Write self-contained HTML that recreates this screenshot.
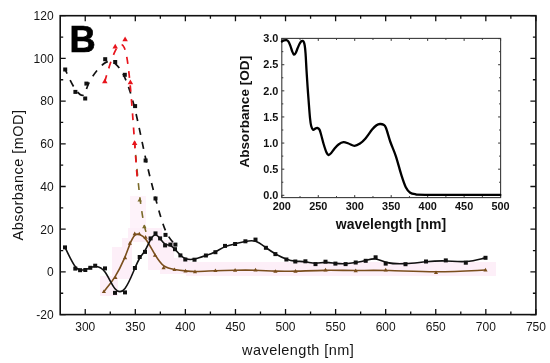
<!DOCTYPE html><html><head><meta charset="utf-8"><style>html,body{margin:0;padding:0;background:#fff;width:550px;height:363px;overflow:hidden}svg{display:block;will-change:transform}text{font-family:"Liberation Sans",sans-serif}</style></head><body>
<svg width="550" height="363" viewBox="0 0 550 363">

<rect x="130" y="196" width="16" height="32" fill="#fef3fa"/>
<rect x="100" y="276" width="18" height="20" fill="#fdeff8"/>
<rect x="112" y="247" width="20" height="32" fill="#fdeff8"/>
<rect x="122" y="238" width="10" height="30" fill="#fdeff8"/>
<rect x="128" y="228" width="34" height="14" fill="#fdeff8"/>
<rect x="148" y="240" width="26" height="30" fill="#fdeff8"/>
<rect x="160" y="258" width="30" height="16" fill="#fdeff8"/>
<rect x="186" y="262" width="310" height="14" fill="#fdeff8"/>
<path d="M85.24,314.60v-5.5 M85.24,15.70v5.5 M135.31,314.60v-5.5 M135.31,15.70v5.5 M185.38,314.60v-5.5 M185.38,15.70v5.5 M235.46,314.60v-5.5 M235.46,15.70v5.5 M285.53,314.60v-5.5 M285.53,15.70v5.5 M335.61,314.60v-5.5 M335.61,15.70v5.5 M385.68,314.60v-5.5 M385.68,15.70v5.5 M435.75,314.60v-5.5 M435.75,15.70v5.5 M485.83,314.60v-5.5 M485.83,15.70v5.5 M535.90,314.60v-5.5 M535.90,15.70v5.5 M110.27,314.60v-3 M110.27,15.70v3 M160.35,314.60v-3 M160.35,15.70v3 M210.42,314.60v-3 M210.42,15.70v3 M260.49,314.60v-3 M260.49,15.70v3 M310.57,314.60v-3 M310.57,15.70v3 M360.64,314.60v-3 M360.64,15.70v3 M410.72,314.60v-3 M410.72,15.70v3 M460.79,314.60v-3 M460.79,15.70v3 M510.86,314.60v-3 M510.86,15.70v3 M60.20,314.60h5.5 M535.90,314.60h-5.5 M60.20,271.90h5.5 M535.90,271.90h-5.5 M60.20,229.20h5.5 M535.90,229.20h-5.5 M60.20,186.50h5.5 M535.90,186.50h-5.5 M60.20,143.80h5.5 M535.90,143.80h-5.5 M60.20,101.10h5.5 M535.90,101.10h-5.5 M60.20,58.40h5.5 M535.90,58.40h-5.5 M60.20,15.70h5.5 M535.90,15.70h-5.5 M60.20,293.25h3 M535.90,293.25h-3 M60.20,250.55h3 M535.90,250.55h-3 M60.20,207.85h3 M535.90,207.85h-3 M60.20,165.15h3 M535.90,165.15h-3 M60.20,122.45h3 M535.90,122.45h-3 M60.20,79.75h3 M535.90,79.75h-3 M60.20,37.05h3 M535.90,37.05h-3" stroke="#111" stroke-width="1.3" fill="none"/>
<rect x="60.20" y="15.70" width="475.70" height="298.90" fill="none" stroke="#111" stroke-width="1.6"/>
<text x="85.24" y="331" font-size="12" text-anchor="middle" fill="#151515">300</text>
<text x="135.31" y="331" font-size="12" text-anchor="middle" fill="#151515">350</text>
<text x="185.38" y="331" font-size="12" text-anchor="middle" fill="#151515">400</text>
<text x="235.46" y="331" font-size="12" text-anchor="middle" fill="#151515">450</text>
<text x="285.53" y="331" font-size="12" text-anchor="middle" fill="#151515">500</text>
<text x="335.61" y="331" font-size="12" text-anchor="middle" fill="#151515">550</text>
<text x="385.68" y="331" font-size="12" text-anchor="middle" fill="#151515">600</text>
<text x="435.75" y="331" font-size="12" text-anchor="middle" fill="#151515">650</text>
<text x="485.83" y="331" font-size="12" text-anchor="middle" fill="#151515">700</text>
<text x="535.90" y="331" font-size="12" text-anchor="middle" fill="#151515">750</text>
<text x="53.6" y="318.90" font-size="12" text-anchor="end" fill="#151515">-20</text>
<text x="53.6" y="276.20" font-size="12" text-anchor="end" fill="#151515">0</text>
<text x="53.6" y="233.50" font-size="12" text-anchor="end" fill="#151515">20</text>
<text x="53.6" y="190.80" font-size="12" text-anchor="end" fill="#151515">40</text>
<text x="53.6" y="148.10" font-size="12" text-anchor="end" fill="#151515">60</text>
<text x="53.6" y="105.40" font-size="12" text-anchor="end" fill="#151515">80</text>
<text x="53.6" y="62.70" font-size="12" text-anchor="end" fill="#151515">100</text>
<text x="53.6" y="20.00" font-size="12" text-anchor="end" fill="#151515">120</text>
<text x="298.2" y="354.6" font-size="14.5" letter-spacing="0.45" text-anchor="middle" fill="#151515">wavelength [nm]</text>
<text transform="translate(23,175.0) rotate(-90)" font-size="14.5" letter-spacing="0.47" text-anchor="middle" fill="#151515">Absorbance [mOD]</text>
<text x="69.4" y="52" font-size="36.3" font-weight="bold" fill="#000" stroke="#000" stroke-width="0.7">B</text>
<path d="M281.80,197.60v-2.5 M281.80,38.40v2.5 M318.27,197.60v-2.5 M318.27,38.40v2.5 M354.73,197.60v-2.5 M354.73,38.40v2.5 M391.20,197.60v-2.5 M391.20,38.40v2.5 M427.67,197.60v-2.5 M427.67,38.40v2.5 M464.13,197.60v-2.5 M464.13,38.40v2.5 M500.60,197.60v-2.5 M500.60,38.40v2.5 M300.03,197.60v-1.5 M300.03,38.40v1.5 M336.50,197.60v-1.5 M336.50,38.40v1.5 M372.97,197.60v-1.5 M372.97,38.40v1.5 M409.43,197.60v-1.5 M409.43,38.40v1.5 M445.90,197.60v-1.5 M445.90,38.40v1.5 M482.37,197.60v-1.5 M482.37,38.40v1.5 M281.80,195.30h2.5 M500.60,195.30h-2.5 M281.80,169.18h2.5 M500.60,169.18h-2.5 M281.80,143.07h2.5 M500.60,143.07h-2.5 M281.80,116.95h2.5 M500.60,116.95h-2.5 M281.80,90.83h2.5 M500.60,90.83h-2.5 M281.80,64.72h2.5 M500.60,64.72h-2.5 M281.80,38.60h2.5 M500.60,38.60h-2.5 M281.80,182.24h1.5 M500.60,182.24h-1.5 M281.80,156.12h1.5 M500.60,156.12h-1.5 M281.80,130.01h1.5 M500.60,130.01h-1.5 M281.80,103.89h1.5 M500.60,103.89h-1.5 M281.80,77.77h1.5 M500.60,77.77h-1.5 M281.80,51.66h1.5 M500.60,51.66h-1.5" stroke="#333" stroke-width="1" fill="none"/>
<rect x="281.80" y="38.40" width="218.80" height="159.20" fill="none" stroke="#3a3a3a" stroke-width="1.1"/>
<text x="281.80" y="210.1" font-size="10.9" font-weight="bold" text-anchor="middle" fill="#111">200</text>
<text x="318.27" y="210.1" font-size="10.9" font-weight="bold" text-anchor="middle" fill="#111">250</text>
<text x="354.73" y="210.1" font-size="10.9" font-weight="bold" text-anchor="middle" fill="#111">300</text>
<text x="391.20" y="210.1" font-size="10.9" font-weight="bold" text-anchor="middle" fill="#111">350</text>
<text x="427.67" y="210.1" font-size="10.9" font-weight="bold" text-anchor="middle" fill="#111">400</text>
<text x="464.13" y="210.1" font-size="10.9" font-weight="bold" text-anchor="middle" fill="#111">450</text>
<text x="500.60" y="210.1" font-size="10.9" font-weight="bold" text-anchor="middle" fill="#111">500</text>
<text x="278.3" y="199.00" font-size="10.9" font-weight="bold" text-anchor="end" fill="#111">0.0</text>
<text x="278.3" y="172.88" font-size="10.9" font-weight="bold" text-anchor="end" fill="#111">0.5</text>
<text x="278.3" y="146.77" font-size="10.9" font-weight="bold" text-anchor="end" fill="#111">1.0</text>
<text x="278.3" y="120.65" font-size="10.9" font-weight="bold" text-anchor="end" fill="#111">1.5</text>
<text x="278.3" y="94.53" font-size="10.9" font-weight="bold" text-anchor="end" fill="#111">2.0</text>
<text x="278.3" y="68.42" font-size="10.9" font-weight="bold" text-anchor="end" fill="#111">2.5</text>
<text x="278.3" y="42.30" font-size="10.9" font-weight="bold" text-anchor="end" fill="#111">3.0</text>
<text x="391" y="228.6" font-size="14" font-weight="bold" text-anchor="middle" fill="#111">wavelength [nm]</text>
<text transform="translate(249,111.7) rotate(-90)" font-size="13.6" font-weight="bold" text-anchor="middle" fill="#111">Absorbance [OD]</text>
<path d="M281.90,41.50 C282.25,41.32 283.23,40.63 284.00,40.40 C284.77,40.17 285.75,39.90 286.50,40.10 C287.25,40.30 287.85,40.65 288.50,41.60 C289.15,42.55 289.77,44.13 290.40,45.80 C291.03,47.47 291.70,50.13 292.30,51.60 C292.90,53.07 293.43,54.37 294.00,54.60 C294.57,54.83 295.10,54.05 295.70,53.00 C296.30,51.95 296.95,49.83 297.60,48.30 C298.25,46.77 298.97,44.98 299.60,43.80 C300.23,42.62 300.88,41.68 301.40,41.20 C301.92,40.72 302.28,40.72 302.70,40.90 C303.12,41.08 303.55,41.45 303.90,42.30 C304.25,43.15 304.52,44.05 304.80,46.00 C305.08,47.95 305.32,50.00 305.60,54.00 C305.88,58.00 306.17,64.50 306.50,70.00 C306.83,75.50 307.25,81.92 307.60,87.00 C307.95,92.08 308.20,95.33 308.60,100.50 C309.00,105.67 309.57,113.75 310.00,118.00 C310.43,122.25 310.68,124.03 311.20,126.00 C311.72,127.97 312.42,129.37 313.10,129.80 C313.78,130.23 314.62,128.93 315.30,128.60 C315.98,128.27 316.50,127.63 317.20,127.80 C317.90,127.97 318.83,128.40 319.50,129.60 C320.17,130.80 320.52,132.60 321.20,135.00 C321.88,137.40 322.72,141.08 323.60,144.00 C324.48,146.92 325.68,150.67 326.50,152.50 C327.32,154.33 327.75,154.87 328.50,155.00 C329.25,155.13 329.98,154.38 331.00,153.30 C332.02,152.22 333.35,149.97 334.60,148.50 C335.85,147.03 337.02,145.55 338.50,144.50 C339.98,143.45 341.83,142.37 343.50,142.20 C345.17,142.03 346.67,142.90 348.50,143.50 C350.33,144.10 352.58,145.80 354.50,145.80 C356.42,145.80 358.17,144.73 360.00,143.50 C361.83,142.27 363.48,140.72 365.50,138.40 C367.52,136.08 370.27,131.78 372.10,129.60 C373.93,127.42 375.18,126.23 376.50,125.30 C377.82,124.37 378.83,124.08 380.00,124.00 C381.17,123.92 382.50,124.13 383.50,124.80 C384.50,125.47 384.85,125.13 386.00,128.00 C387.15,130.87 388.75,137.28 390.40,142.00 C392.05,146.72 394.07,150.78 395.90,156.30 C397.73,161.82 399.75,169.95 401.40,175.10 C403.05,180.25 404.33,184.27 405.80,187.20 C407.27,190.13 408.50,191.52 410.20,192.70 C411.90,193.88 413.53,193.95 416.00,194.30 C418.47,194.65 410.95,194.70 425.00,194.80 C439.05,194.90 487.75,194.88 500.30,194.90" stroke="#000" stroke-width="2.3" fill="none" stroke-linejoin="round" stroke-linecap="round"/>
<path d="M103.90,291.60 C103.90,291.60 103.90,291.60 105.82,289.25 C107.73,286.90 111.57,282.20 115.10,276.57 C118.63,270.93 121.87,264.37 124.28,258.67 C126.70,252.97 128.30,248.13 129.90,244.12 C131.50,240.10 133.10,236.90 134.67,235.33 C136.23,233.77 137.77,233.83 139.58,234.42 C141.40,235.00 143.50,236.10 146.12,239.67 C148.73,243.23 151.87,249.27 154.87,254.35 C157.87,259.43 160.73,263.57 163.98,265.95 C167.23,268.33 170.87,268.97 174.52,269.52 C178.17,270.07 181.83,270.53 185.25,270.90 C188.67,271.27 191.83,271.53 196.82,271.47 C201.80,271.40 208.60,271.00 215.28,270.73 C221.97,270.47 228.53,270.33 235.22,270.23 C241.90,270.13 248.70,270.07 255.42,270.27 C262.13,270.47 268.77,270.93 275.43,271.15 C282.10,271.37 288.80,271.33 297.15,271.10 C305.50,270.87 315.50,270.43 325.53,270.33 C335.57,270.23 345.63,270.47 355.67,270.47 C365.70,270.47 375.70,270.23 389.08,270.55 C402.47,270.87 419.23,271.73 435.87,271.73 C452.50,271.73 469.00,270.87 477.25,270.43 C485.50,270.00 485.50,270.00 485.50,270.00" stroke="#7a4e1c" stroke-width="1.6" fill="none"/>
<path d="M65.00,247.40 C65.00,247.40 65.00,247.40 66.72,250.93 C68.43,254.47 71.87,261.53 74.38,265.33 C76.90,269.13 78.50,269.67 80.17,269.90 C81.83,270.13 83.57,270.07 85.27,269.67 C86.97,269.27 88.63,268.53 90.28,267.82 C91.93,267.10 93.57,266.40 96.02,266.50 C98.47,266.60 101.73,267.50 105.03,272.03 C108.33,276.57 111.67,284.73 115.00,288.73 C118.33,292.73 121.67,292.57 124.98,288.42 C128.30,284.27 131.60,276.13 134.05,270.23 C136.50,264.33 138.10,260.67 139.78,257.98 C141.47,255.30 143.23,253.60 145.05,250.50 C146.87,247.40 148.73,242.90 150.48,239.82 C152.23,236.73 153.87,235.07 155.45,235.07 C157.03,235.07 158.57,236.73 160.17,238.73 C161.77,240.73 163.43,243.07 165.15,244.10 C166.87,245.13 168.63,244.87 170.28,245.50 C171.93,246.13 173.47,247.67 175.13,249.47 C176.80,251.27 178.60,253.33 180.32,255.05 C182.03,256.77 183.67,258.13 186.02,258.85 C188.37,259.57 191.43,259.63 194.87,258.97 C198.30,258.30 202.10,256.90 205.58,255.65 C209.07,254.40 212.23,253.30 215.42,251.70 C218.60,250.10 221.80,248.00 225.08,246.63 C228.37,245.27 231.73,244.63 235.13,243.87 C238.53,243.10 241.97,242.20 245.37,241.47 C248.77,240.73 252.13,240.17 255.55,241.25 C258.97,242.33 262.43,245.07 265.75,247.48 C269.07,249.90 272.23,252.00 275.65,253.95 C279.07,255.90 282.73,257.70 286.05,258.93 C289.37,260.17 292.33,260.83 295.50,261.13 C298.67,261.43 302.03,261.37 305.40,261.80 C308.77,262.23 312.13,263.17 315.48,263.23 C318.83,263.30 322.17,262.50 325.48,262.42 C328.80,262.33 332.10,262.97 335.45,263.37 C338.80,263.77 342.20,263.93 345.58,263.75 C348.97,263.57 352.33,263.03 355.68,262.48 C359.03,261.93 362.37,261.37 365.68,260.50 C369.00,259.63 372.30,258.47 375.63,258.93 C378.97,259.40 382.33,261.50 387.32,262.65 C392.30,263.80 398.90,264.00 405.62,263.65 C412.33,263.30 419.17,262.40 425.88,261.77 C432.60,261.13 439.20,260.77 445.83,260.97 C452.47,261.17 459.13,261.93 465.75,261.50 C472.37,261.07 478.93,259.43 482.22,258.62 C485.50,257.80 485.50,257.80 485.50,257.80" stroke="#111" stroke-width="1.6" fill="none"/>
<path id="bd" d="M65.20,69.50 C65.20,69.50 65.20,69.50 66.90,73.23 C68.60,76.97 72.00,84.43 75.33,89.27 C78.67,94.10 81.93,96.30 83.77,94.92 C85.60,93.53 86.00,88.57 89.33,82.02 C92.67,75.47 98.93,67.33 103.73,63.73 C108.53,60.13 111.87,61.07 115.13,63.67 C118.40,66.27 121.60,70.53 124.92,77.88 C128.23,85.23 131.67,95.67 135.13,109.95 C138.60,124.23 142.10,142.37 145.50,157.77 C148.90,173.17 152.20,185.83 155.52,198.23 C158.83,210.63 162.17,222.77 165.48,230.45 C168.80,238.13 172.10,241.37 173.75,242.98 C175.40,244.60 175.40,244.60 175.40,244.60" stroke="#111" stroke-width="1.7" fill="none" stroke-dasharray="7.1,7" stroke-dashoffset="2.4"/>
<path id="od" d="M134.60,143.00 C134.60,143.00 134.60,143.00 135.45,152.50 C136.30,162.00 138.00,181.00 139.62,194.97 C141.23,208.93 142.77,217.87 143.95,223.62 C145.13,229.37 145.97,231.93 146.38,233.22 C146.80,234.50 146.80,234.50 146.80,234.50" stroke="#7a6a28" stroke-width="1.6" fill="none" stroke-dasharray="6.8,7.3" stroke-dashoffset="2.05"/>
<path id="rd" d="M104.80,81.40 C104.80,81.40 104.80,81.40 106.53,75.58 C108.27,69.77 111.73,58.13 115.12,51.13 C118.50,44.13 121.80,41.77 124.33,47.75 C126.87,53.73 128.63,68.07 130.22,85.33 C131.80,102.60 133.20,122.80 134.33,138.73 C135.47,154.67 136.33,166.33 136.77,172.17 C137.20,178.00 137.20,178.00 137.20,178.00" stroke="#e8141c" stroke-width="1.7" fill="none" stroke-dasharray="6.8,7.3" stroke-dashoffset="0.4"/>
<path d="M103.90,289.41 L101.80,293.06 L106.00,293.06 Z" fill="#7a4e1c"/><path d="M115.40,275.31 L113.30,278.96 L117.50,278.96 Z" fill="#7a4e1c"/><path d="M125.10,255.61 L123.00,259.26 L127.20,259.26 Z" fill="#7a4e1c"/><path d="M129.90,241.11 L127.80,244.76 L132.00,244.76 Z" fill="#7a4e1c"/><path d="M134.70,231.51 L132.60,235.16 L136.80,235.16 Z" fill="#7a4e1c"/><path d="M139.30,231.71 L137.20,235.36 L141.40,235.36 Z" fill="#7a4e1c"/><path d="M145.60,235.01 L143.50,238.66 L147.70,238.66 Z" fill="#7a4e1c"/><path d="M155.00,253.11 L152.90,256.76 L157.10,256.76 Z" fill="#7a4e1c"/><path d="M163.60,265.51 L161.50,269.16 L165.70,269.16 Z" fill="#7a4e1c"/><path d="M174.50,267.41 L172.40,271.06 L176.60,271.06 Z" fill="#7a4e1c"/><path d="M185.50,268.81 L183.40,272.46 L187.60,272.46 Z" fill="#7a4e1c"/><path d="M195.00,269.61 L192.90,273.26 L197.10,273.26 Z" fill="#7a4e1c"/><path d="M215.40,268.41 L213.30,272.06 L217.50,272.06 Z" fill="#7a4e1c"/><path d="M235.10,268.01 L233.00,271.66 L237.20,271.66 Z" fill="#7a4e1c"/><path d="M255.50,267.81 L253.40,271.46 L257.60,271.46 Z" fill="#7a4e1c"/><path d="M275.40,269.21 L273.30,272.86 L277.50,272.86 Z" fill="#7a4e1c"/><path d="M295.50,269.11 L293.40,272.76 L297.60,272.76 Z" fill="#7a4e1c"/><path d="M325.50,267.81 L323.40,271.46 L327.60,271.46 Z" fill="#7a4e1c"/><path d="M355.70,268.51 L353.60,272.16 L357.80,272.16 Z" fill="#7a4e1c"/><path d="M385.70,267.81 L383.60,271.46 L387.80,271.46 Z" fill="#7a4e1c"/><path d="M436.00,270.41 L433.90,274.06 L438.10,274.06 Z" fill="#7a4e1c"/><path d="M485.50,267.81 L483.40,271.46 L487.60,271.46 Z" fill="#7a4e1c"/>
<rect x="63.00" y="245.40" width="4.0" height="4.0" fill="#111"/><rect x="73.30" y="266.60" width="4.0" height="4.0" fill="#111"/><rect x="78.10" y="268.20" width="4.0" height="4.0" fill="#111"/><rect x="83.30" y="268.00" width="4.0" height="4.0" fill="#111"/><rect x="88.30" y="265.80" width="4.0" height="4.0" fill="#111"/><rect x="93.20" y="263.70" width="4.0" height="4.0" fill="#111"/><rect x="103.00" y="266.40" width="4.0" height="4.0" fill="#111"/><rect x="113.00" y="290.90" width="4.0" height="4.0" fill="#111"/><rect x="123.00" y="290.40" width="4.0" height="4.0" fill="#111"/><rect x="132.90" y="266.00" width="4.0" height="4.0" fill="#111"/><rect x="137.70" y="255.00" width="4.0" height="4.0" fill="#111"/><rect x="143.00" y="249.90" width="4.0" height="4.0" fill="#111"/><rect x="148.60" y="236.40" width="4.0" height="4.0" fill="#111"/><rect x="153.50" y="231.40" width="4.0" height="4.0" fill="#111"/><rect x="158.10" y="236.40" width="4.0" height="4.0" fill="#111"/><rect x="163.10" y="243.40" width="4.0" height="4.0" fill="#111"/><rect x="168.40" y="242.60" width="4.0" height="4.0" fill="#111"/><rect x="173.00" y="247.20" width="4.0" height="4.0" fill="#111"/><rect x="178.40" y="253.40" width="4.0" height="4.0" fill="#111"/><rect x="183.30" y="257.50" width="4.0" height="4.0" fill="#111"/><rect x="192.50" y="257.70" width="4.0" height="4.0" fill="#111"/><rect x="203.90" y="253.50" width="4.0" height="4.0" fill="#111"/><rect x="213.40" y="250.20" width="4.0" height="4.0" fill="#111"/><rect x="223.00" y="243.90" width="4.0" height="4.0" fill="#111"/><rect x="233.10" y="242.00" width="4.0" height="4.0" fill="#111"/><rect x="243.40" y="239.30" width="4.0" height="4.0" fill="#111"/><rect x="253.50" y="237.60" width="4.0" height="4.0" fill="#111"/><rect x="263.90" y="245.80" width="4.0" height="4.0" fill="#111"/><rect x="273.40" y="252.10" width="4.0" height="4.0" fill="#111"/><rect x="284.40" y="257.50" width="4.0" height="4.0" fill="#111"/><rect x="293.30" y="259.50" width="4.0" height="4.0" fill="#111"/><rect x="303.40" y="259.30" width="4.0" height="4.0" fill="#111"/><rect x="313.50" y="262.10" width="4.0" height="4.0" fill="#111"/><rect x="323.50" y="259.70" width="4.0" height="4.0" fill="#111"/><rect x="333.40" y="261.60" width="4.0" height="4.0" fill="#111"/><rect x="343.60" y="262.10" width="4.0" height="4.0" fill="#111"/><rect x="353.70" y="260.50" width="4.0" height="4.0" fill="#111"/><rect x="363.70" y="258.80" width="4.0" height="4.0" fill="#111"/><rect x="373.60" y="255.30" width="4.0" height="4.0" fill="#111"/><rect x="383.70" y="261.60" width="4.0" height="4.0" fill="#111"/><rect x="403.50" y="262.20" width="4.0" height="4.0" fill="#111"/><rect x="424.00" y="259.50" width="4.0" height="4.0" fill="#111"/><rect x="443.80" y="258.40" width="4.0" height="4.0" fill="#111"/><rect x="463.80" y="260.70" width="4.0" height="4.0" fill="#111"/><rect x="483.50" y="255.80" width="4.0" height="4.0" fill="#111"/>
<rect x="63.20" y="67.50" width="4.0" height="4.0" fill="#111"/><rect x="73.40" y="89.90" width="4.0" height="4.0" fill="#111"/><rect x="83.20" y="96.50" width="4.0" height="4.0" fill="#111"/><rect x="84.40" y="81.60" width="4.0" height="4.0" fill="#111"/><rect x="103.20" y="57.20" width="4.0" height="4.0" fill="#111"/><rect x="113.20" y="60.00" width="4.0" height="4.0" fill="#111"/><rect x="122.80" y="72.80" width="4.0" height="4.0" fill="#111"/><rect x="133.10" y="104.10" width="4.0" height="4.0" fill="#111"/><rect x="143.60" y="158.50" width="4.0" height="4.0" fill="#111"/><rect x="153.50" y="196.50" width="4.0" height="4.0" fill="#111"/><rect x="163.50" y="232.90" width="4.0" height="4.0" fill="#111"/><rect x="173.40" y="242.60" width="4.0" height="4.0" fill="#111"/>
<path d="M104.80,78.53 L102.05,83.31 L107.55,83.31 Z" fill="#e8141c"/><path d="M115.20,43.63 L112.45,48.41 L117.95,48.41 Z" fill="#e8141c"/><path d="M125.10,36.53 L122.35,41.31 L127.85,41.31 Z" fill="#e8141c"/><path d="M130.40,79.53 L127.65,84.31 L133.15,84.31 Z" fill="#e8141c"/><path d="M134.60,140.13 L131.85,144.91 L137.35,144.91 Z" fill="#e8141c"/>
<path d="M139.70,197.65 L137.45,201.57 L141.95,201.57 Z" fill="#7a6a28"/><path d="M144.30,224.45 L142.05,228.37 L146.55,228.37 Z" fill="#7a6a28"/>
</svg></body></html>
